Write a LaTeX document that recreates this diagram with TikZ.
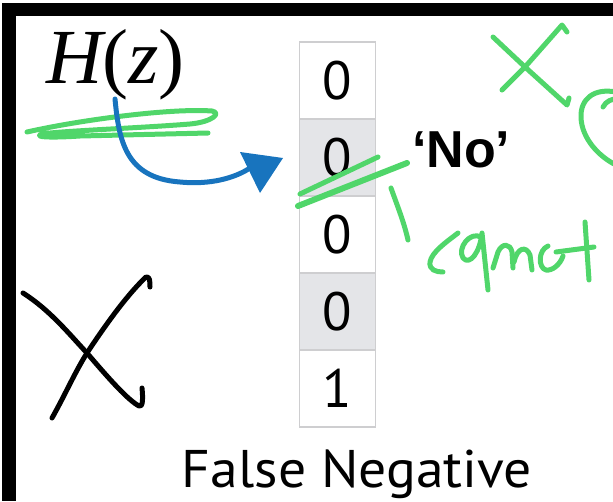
\documentclass[tikz,border=0pt]{standalone}
\usepackage{fontspec}
\setmainfont{Liberation Serif}
\newfontfamily\ptsans{PT Sans}
\newfontfamily\arialf{Liberation Sans}
\definecolor{penG}{RGB}{80,214,106}
\definecolor{penB}{RGB}{24,116,190}
\definecolor{cellgray}{RGB}{228,229,232}
\definecolor{cellline}{RGB}{206,206,208}
\tikzset{
  cellbox/.style={draw=cellline, line width=1.2pt, minimum width=76pt, minimum height=77pt, inner sep=0pt, font=\ptsans\fontsize{54}{54}\selectfont},
  greenpen/.style={draw=penG, line width=5pt, line cap=round, line join=round},
  bluepen/.style={draw=penB, line width=5pt, line cap=round, line join=round},
  blackpen/.style={draw=black, line width=5pt, line cap=round, line join=round},
}
\begin{document}
\begin{tikzpicture}[x=1pt,y=-1pt]
\useasboundingbox (0,0) rectangle (613,501);
% frame
\fill[black] (2,3) rectangle (613,16);
\fill[black] (2,3) rectangle (16,501);
% cells
\foreach \i/\d/\f in {1/0/white,2/0/cellgray,3/0/white,4/0/cellgray,5/1/white}
  \node[cellbox, fill=\f] (c\i) at (337.5, 3.5+77*\i) {\d};
% labels
\node[anchor=base west, inner sep=0pt, font=\itshape\fontsize{78}{78}\selectfont] (hz) at (46,83) {H\upshape(\itshape z\upshape)};
\node[anchor=base west, inner sep=0pt, font=\arialf\bfseries\fontsize{52}{52}\selectfont] (no) at (412,167) {‘No’};
\node[anchor=base, inner sep=0pt, font=\ptsans\fontsize{53}{53}\selectfont] (fn) at (357,487) {\scalebox{1.05}[1]{False Negative}};
% green scribble under H(z)
\draw[greenpen] (27,132) .. controls (80,120) and (170,108) .. (212,111) .. controls (222,113) and (212,122) .. (190,124) .. controls (140,128) and (60,131) .. (42,134) .. controls (32,137) and (50,138) .. (80,136) -- (208,133);
% blue arrow
\coordinate (bs) at (115,99);
\coordinate (be) at (250,168);
\draw[bluepen] (bs) .. controls (119,140) and (125,178) .. (180,182) .. controls (210,185) and (235,178) .. (be);
\fill[penB] (240,152) -- (283,158) -- (260,193) -- cycle;
% green strike
\draw[greenpen, line width=6pt] (298,206) -- (407,163);
\draw[greenpen, line width=5pt] (300,194) -- (378,157);
\draw[greenpen] (391,188) .. controls (397,205) and (404,222) .. (408,240);
% "cannot"
\draw[greenpen] (458,233) .. controls (445,243) and (432,252) .. (430,262) .. controls (429,270) and (436,272) .. (443,272);
\draw[greenpen] (481,237) .. controls (470,231) and (457,248) .. (463,258) .. controls (470,266) and (480,252) .. (482,233) -- (488,290);
\draw[greenpen] (493,268) -- (498,252) .. controls (502,243) and (510,243) .. (512,252) -- (513,268);
\draw[greenpen] (514,262) .. controls (517,248) and (526,245) .. (530,255) -- (532,270);
\draw[greenpen] (548,246) .. controls (538,250) and (538,268) .. (546,270) .. controls (552,271) and (560,265) .. (563,256);
\draw[greenpen] (556,252) -- (594,247);
\draw[greenpen] (585,222) -- (589,280);
% green X top right
\draw[greenpen] (493,37) -- (525,67) -- (567,105) -- (569,98);
\draw[greenpen] (502,90) -- (525,67) -- (562,25) -- (567,32);
\draw[greenpen] (603,107) .. controls (606,101) and (612,99) .. (616,99);
\draw[greenpen] (616,92) .. controls (595,88) and (580,98) .. (581,118) .. controls (582,138) and (598,156) .. (616,165);
% black X
\draw[blackpen] (23,293) .. controls (50,310) and (70,335) .. (87,353) .. controls (110,380) and (128,400) .. (139,406) .. controls (143,408) and (143,398) .. (142,388);
\draw[blackpen] (52,418) .. controls (65,395) and (75,372) .. (87,353) .. controls (110,318) and (130,292) .. (146,277) .. controls (150,276) and (150,282) .. (150,287);
\end{tikzpicture}
\end{document}
